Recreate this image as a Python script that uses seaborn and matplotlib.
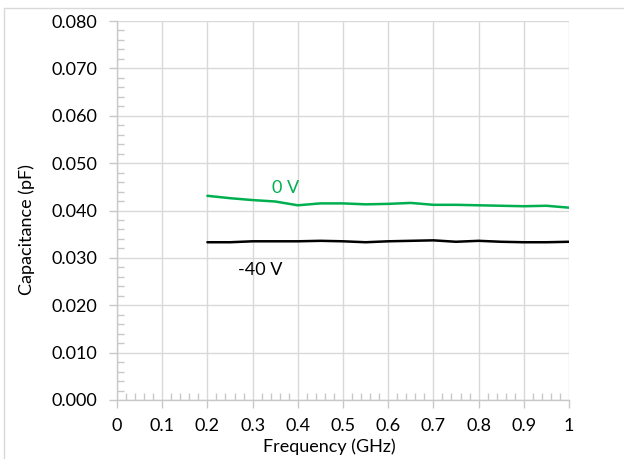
import matplotlib
matplotlib.use("Agg")
import matplotlib.pyplot as plt
from matplotlib.patches import Rectangle
from matplotlib.ticker import MultipleLocator, FuncFormatter
import seaborn as sns
import pandas as pd

freq = [0.20, 0.25, 0.30, 0.35, 0.40, 0.45, 0.50, 0.55, 0.60, 0.65, 0.70, 0.75, 0.80, 0.85, 0.90, 0.95, 1.00]
cap_0v = [0.0431, 0.0426, 0.0422, 0.0419, 0.0411, 0.0415, 0.0415, 0.0413, 0.0414, 0.0416, 0.0412, 0.0412, 0.0411, 0.0410, 0.0409, 0.0410, 0.0406]
cap_m40v = [0.0333, 0.0333, 0.0335, 0.0335, 0.0335, 0.0336, 0.0335, 0.0333, 0.0335, 0.0336, 0.0337, 0.0334, 0.0336, 0.0334, 0.0333, 0.0333, 0.0334]
series_names = ["0 V", "-40 V"]

df = pd.DataFrame({
    "freq": freq * 2,
    "cap": cap_0v + cap_m40v,
    "series": [series_names[0]] * len(freq) + [series_names[1]] * len(freq),
})

sns.set_theme(style="white")
plt.rcParams["font.family"] = ["Lato", "DejaVu Sans"]

fig = plt.figure(figsize=(6.24, 4.59), dpi=100)
ax = fig.add_axes([117 / 624, 1 - 400 / 459, 452 / 624, 379 / 459])

grid_c = "#d9d9d9"
tick_c = "#c8c8c8"
sns.lineplot(data=df, x="freq", y="cap", hue="series",
             palette={"0 V": "#00b050", "-40 V": "#000000"},
             linewidth=1.8, legend=False, ax=ax)

ax.set_xlim(0, 1)
ax.set_ylim(0, 0.080)
ax.xaxis.set_major_locator(MultipleLocator(0.1))
ax.xaxis.set_minor_locator(MultipleLocator(0.02))
ax.yaxis.set_major_locator(MultipleLocator(0.01))
ax.yaxis.set_minor_locator(MultipleLocator(0.002))
ax.xaxis.set_major_formatter(FuncFormatter(lambda v, p: f"{v:g}"))
ax.yaxis.set_major_formatter(FuncFormatter(lambda v, p: f"{v:.3f}"))
ax.grid(True, which="major", color=grid_c, linewidth=1)
ax.set_axisbelow(True)

for s in ["top", "right"]:
    ax.spines[s].set_visible(False)
for s in ["left", "bottom"]:
    ax.spines[s].set_color(tick_c)
    ax.spines[s].set_linewidth(1)

ax.tick_params(axis="x", which="both", bottom=True, top=False)
ax.tick_params(axis="y", which="both", left=True, right=False)
ax.tick_params(axis="both", which="major", direction="out", length=6, width=1,
               color=tick_c, labelsize=13, labelcolor="black")
ax.tick_params(axis="x", which="major", pad=7)
ax.tick_params(axis="y", which="major", pad=8)
ax.tick_params(axis="both", which="minor", direction="in", length=5, width=1, color=tick_c)

ax.set_xlabel("Frequency (GHz)", fontsize=13, color="black")
ax.set_ylabel("Capacitance (pF)", fontsize=13, color="black")
ax.xaxis.set_label_coords((329 - 117) / 452, -(447 - 400) / 379)
ax.yaxis.set_label_coords(-(117 - 27) / 452, (400 - 230) / 379)
ax.xaxis.label.set_va("center")
ax.yaxis.label.set_va("center")

ax.text(0.374, 0.0447, "0 V", color="#00b050", fontsize=13, ha="center", va="center")
ax.text(0.316, 0.0274, "-40 V", color="black", fontsize=13, ha="center", va="center")

fig.add_artist(Rectangle((4 / 624, -0.1), 1.2, 1 - 8 / 459 + 0.1, transform=fig.transFigure,
                         fill=False, edgecolor=grid_c, linewidth=1))

fig.savefig("out.png", dpi=100)
